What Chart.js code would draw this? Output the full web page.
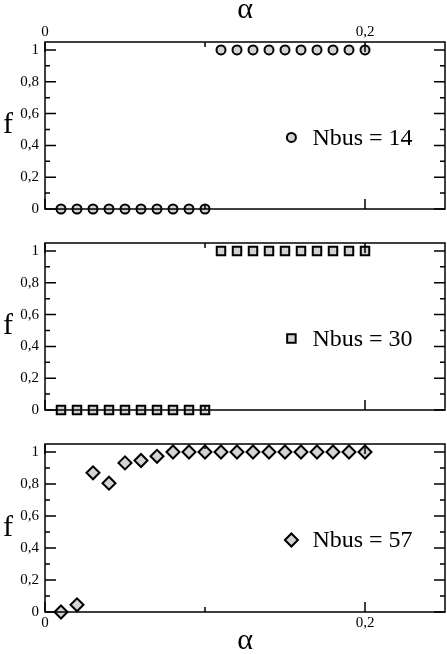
<!DOCTYPE html>
<html>
<head>
<meta charset="utf-8">
<script src="https://cdn.jsdelivr.net/npm/chart.js@4"></script>
<style>
  html, body { margin: 0; padding: 0; background: #fff; }
  .panel { position: absolute; left: 0; width: 447px; }
</style>
</head>
<body>
<div class="panel" style="top:0px;height:215px"><canvas id="p14" width="447" height="215"></canvas></div>
<div class="panel" style="top:215px;height:215px"><canvas id="p30" width="447" height="215"></canvas></div>
<div class="panel" style="top:430px;height:224px"><canvas id="p57" width="447" height="224"></canvas></div>
<script>
// data
const alpha = [0.01, 0.02, 0.03, 0.04, 0.05, 0.06, 0.07, 0.08, 0.09, 0.10,
               0.11, 0.12, 0.13, 0.14, 0.15, 0.16, 0.17, 0.18, 0.19, 0.20];
const f14 = [0, 0, 0, 0, 0, 0, 0, 0, 0, 0, 1, 1, 1, 1, 1, 1, 1, 1, 1, 1];
const f30 = [0, 0, 0, 0, 0, 0, 0, 0, 0, 0, 1, 1, 1, 1, 1, 1, 1, 1, 1, 1];
const f57 = [0, 0.045, 0.87, 0.805, 0.932, 0.947, 0.973, 1, 1, 1,
             1, 1, 1, 1, 1, 1, 1, 1, 1, 1];
const yMajor = [0, 0.2, 0.4, 0.6, 0.8, 1];
const yMinor = [0.1, 0.3, 0.5, 0.7, 0.9];
const xMajor = [0, 0.2];
const xMinor = [0.1];

const SERIF = "'Liberation Serif', 'Times New Roman', serif";
const fmt = v => (v === 0 || v === 1) ? String(v) : v.toFixed(1).replace('.', ',');

// frame, inward ticks, "f" label and the in-plot legend
const decor = {
  id: 'decor',
  afterDatasetsDraw(chart, args, o) {
    const ctx = chart.ctx, a = chart.chartArea;
    const xs = chart.scales.x, ys = chart.scales.y;
    ctx.save();
    ctx.strokeStyle = '#000';
    ctx.lineWidth = 1.5;
    ctx.strokeRect(a.left, a.top, a.right - a.left, a.bottom - a.top);
    ctx.beginPath();
    const tick = (vals, len) => {
      vals.forEach(v => {
        const y = ys.getPixelForValue(v);
        ctx.moveTo(a.left, y); ctx.lineTo(a.left + len, y);
        ctx.moveTo(a.right, y); ctx.lineTo(a.right - len, y);
      });
    };
    const tickX = (vals, len) => {
      vals.forEach(v => {
        const x = xs.getPixelForValue(v);
        ctx.moveTo(x, a.top); ctx.lineTo(x, a.top + len);
        ctx.moveTo(x, a.bottom); ctx.lineTo(x, a.bottom - len);
      });
    };
    tick(yMajor, 11); tick(yMinor, 5);
    tickX(xMajor, 10); tickX(xMinor, 5);
    ctx.stroke();

    // f
    ctx.fillStyle = '#000';
    ctx.font = '30px ' + SERIF;
    ctx.textAlign = 'center';
    ctx.textBaseline = 'middle';
    ctx.fillText('f', 8, (a.top + a.bottom) / 2);

    // legend
    const ds = chart.data.datasets[0];
    const lx = xs.getPixelForValue(o.lx), ly = ys.getPixelForValue(o.ly);
    ctx.fillStyle = ds.backgroundColor;
    ctx.strokeStyle = ds.borderColor;
    ctx.lineWidth = ds.borderWidth;
    Chart.helpers.drawPoint(ctx, {pointStyle: ds.pointStyle, radius: ds.pointRadius, rotation: 0, borderWidth: ds.borderWidth}, lx, ly);
    ctx.fillStyle = '#000';
    ctx.font = '24px ' + SERIF;
    ctx.textAlign = 'left';
    ctx.fillText(ds.label, lx + 21, ly + 1);
    ctx.restore();
  }
};

function panel(id, ys, label, style, radius, xPos) {
  const xScale = {
    type: 'linear', min: 0, max: 0.25,
    display: xPos !== null,
    position: xPos || 'bottom',
    afterBuildTicks: s => { s.ticks = xMajor.map(v => ({value: v})); },
    afterFit: s => { s.height = xPos === null ? 0 : 42; s.paddingLeft = 0; s.paddingRight = 0; },
    grid: {display: false, drawTicks: false},
    border: {display: false},
    ticks: {
      color: '#000', padding: xPos === 'top' ? 1 : 2, maxRotation: 0, autoSkip: false,
      font: {family: SERIF, size: 15}, callback: v => fmt(v)
    },
    title: {
      display: true, text: 'α', color: '#000',
      font: {family: SERIF, size: 30, lineHeight: 0.55},
      padding: xPos === 'top' ? {top: 2, bottom: 0} : {top: 0, bottom: 5}
    }
  };
  return new Chart(document.getElementById(id), {
    type: 'scatter',
    data: {
      datasets: [{
        label: label,
        data: alpha.map((a, i) => ({x: a, y: ys[i]})),
        pointStyle: style,
        pointRadius: radius,
        pointHoverRadius: radius,
        backgroundColor: '#d3d3d3',
        borderColor: '#000',
        borderWidth: 2,
        clip: false
      }]
    },
    options: {
      responsive: false,
      animation: false,
      events: [],
      layout: {
        autoPadding: false,
        padding: xPos === 'top' ? {top: 0, bottom: 6, left: 0, right: 2}
               : xPos === null ? {top: 28, bottom: 20, left: 0, right: 2}
               : {top: 14, bottom: 0, left: 0, right: 2}
      },
      plugins: {
        legend: {display: false},
        tooltip: {enabled: false},
        decor: {lx: 0.154, ly: 0.45}
      },
      scales: {
        x: xScale,
        y: {
          type: 'linear', min: 0, max: 1.05,
          afterBuildTicks: s => { s.ticks = yMajor.map(v => ({value: v})); },
          afterFit: s => { s.width = 45; s.paddingTop = 0; s.paddingBottom = 0; },
          grid: {display: false, drawTicks: false},
          border: {display: false},
          ticks: {color: '#000', padding: 6, font: {family: SERIF, size: 15}, callback: v => fmt(v)}
        }
      }
    },
    plugins: [decor]
  });
}

panel('p14', f14, 'Nbus = 14', 'circle', 4.5, 'top');
panel('p30', f30, 'Nbus = 30', 'rect', 6, null);
panel('p57', f57, 'Nbus = 57', 'rectRot', 6.5, 'bottom');
</script>
</body>
</html>
